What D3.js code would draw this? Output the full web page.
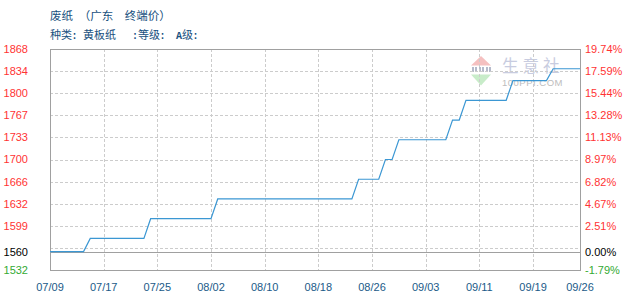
<!DOCTYPE html>
<html><head><meta charset="utf-8">
<script src="https://cdn.jsdelivr.net/npm/d3@7"></script>
<style>body{margin:0;background:#fff}svg{display:block}</style>
</head><body>
<svg id="c" width="630" height="300"></svg>
<script>
const titleLine1 = "废纸 （广东  终端价）";
const titleLine2 = "种类: 黄板纸   :等级:  A级:";
const dates = ["07/09","07/14","07/15","07/23","07/24","08/02","08/03","08/23","08/24","08/27","08/28","08/29","08/30","09/06","09/07","09/08","09/09","09/15","09/16","09/21","09/22","09/26"];
const prices = [1560,1560,1580,1580,1610,1610,1640,1640,1670,1670,1700,1700,1730,1730,1760,1760,1790,1790,1820,1820,1838,1838];
const xTickLabels = ["07/09","07/17","07/25","08/02","08/10","08/18","08/26","09/03","09/11","09/19","09/26"];
const baseValue = 1560;
const yMin = 1532, yMax = 1868;
const yGridValues = [1565.6,1599.2,1632.8,1666.4,1700,1733.6,1767.2,1800.8,1834.4];
const yLabelValues = [1532,1560,1599.2,1632.8,1666.4,1700,1733.6,1767.2,1800.8,1834.4,1868];
const leftLabels = ["1532","1560","1599","1632","1666","1700","1733","1767","1800","1834","1868"];
const rightLabels = ["-1.79%","0.00%","2.51%","4.67%","6.82%","8.97%","11.13%","13.28%","15.44%","17.59%","19.74%"];

const parse = d3.timeParse("%m/%d");
const L = 50, R = 580, T = 49, B = 270;
const x = d3.scaleTime().domain([parse(dates[0]), parse(dates[dates.length-1])]).range([L, R]);
const y = d3.scaleLinear().domain([yMin, yMax]).range([B, T]);
const svg = d3.select("#c");
const font = "'Liberation Sans', Arial, sans-serif";
const mono = "'Liberation Mono', 'DejaVu Sans Mono', monospace";
const cjk = "'Noto Sans CJK SC', sans-serif";
const crisp = v => Math.round(v) + 0.5;

// titles: full-width glyphs advance one em, ASCII half an em
function title(str, x0, yb, size) {
  const t = svg.append("text").attr("y", yb).attr("fill", "#17507e")
    .attr("font-family", cjk).attr("font-size", size).attr("xml:space", "preserve");
  let cx = x0;
  for (const ch of str) {
    const ascii = ch.charCodeAt(0) < 128;
    if (ch !== " ") {
      t.append("tspan").attr("x", cx - (ascii ? 0.5 : 0))
        .attr("font-family", ascii ? mono : cjk)
        .attr("font-weight", ascii ? "bold" : "normal")
        .attr("font-size", ascii ? 10 : size).text(ch);
    }
    cx += ascii ? size / 2 : size;
  }
}
title(titleLine1, 50, 19.5, 11.5);
title(titleLine2, 50, 38.5, 11);

// watermark
const wm = svg.append("g");
wm.append("path").attr("d", "M481,56 L491,65.5 L471,65.5 Z").attr("fill", "#f5c0c0");
wm.append("path").attr("d", "M471,74.5 L491,74.5 L481,85.5 Z").attr("fill", "#c8ecc9");
[472,475,479,482,486,489].forEach(px => wm.append("rect").attr("x", px).attr("y", 67).attr("width", 2).attr("height", 5).attr("fill", "#b5bacb"));
wm.append("text").attr("x", 502).attr("y", 72).attr("font-family", cjk).attr("font-size", 16.5)
  .attr("letter-spacing", 4).attr("fill", "#c8cce0").text("生意社");
wm.append("text").attr("x", 502).attr("y", 86).attr("font-family", font).attr("font-size", 9.5)
  .attr("letter-spacing", 0.5).attr("fill", "#bdbdbd").text("100PPI.COM");

// grid
const xGrid = xTickLabels.slice(1, -1).map(parse);
svg.append("g").selectAll("line").data(xGrid).join("line")
  .attr("x1", d => crisp(x(d))).attr("x2", d => crisp(x(d)))
  .attr("y1", T).attr("y2", B)
  .attr("stroke", "#cccccc").attr("stroke-dasharray", "3,2").attr("shape-rendering", "crispEdges");
svg.append("g").selectAll("line").data(yGridValues).join("line")
  .attr("x1", L).attr("x2", R)
  .attr("y1", d => crisp(y(d))).attr("y2", d => crisp(y(d)))
  .attr("stroke", "#cccccc").attr("stroke-dasharray", "3,2").attr("shape-rendering", "crispEdges");

// frame + base line
svg.append("rect").attr("x", crisp(L)).attr("y", crisp(T)).attr("width", R - L).attr("height", B - T)
  .attr("fill", "none").attr("stroke", "#a0a0a0").attr("shape-rendering", "crispEdges");
svg.append("line").attr("x1", L).attr("x2", R).attr("y1", crisp(y(baseValue))).attr("y2", crisp(y(baseValue)))
  .attr("stroke", "#a0a0a0").attr("shape-rendering", "crispEdges");

// line
const pts = dates.map((d, i) => [parse(d), prices[i]]);
svg.append("path").datum(pts)
  .attr("d", d3.line().x(d => x(d[0])).y(d => y(d[1])))
  .attr("fill", "none").attr("stroke", "#3b97d3").attr("stroke-width", 1.2);

// y labels
const col = v => v > baseValue ? "#ff3333" : (v === baseValue ? "#000000" : "#33aa33");
svg.append("g").selectAll("text").data(yLabelValues).join("text")
  .attr("x", 28).attr("y", d => y(d)).attr("dy", "0.36em").attr("text-anchor", "end")
  .attr("font-family", font).attr("font-size", 11).attr("fill", col)
  .text((d, i) => leftLabels[i]);
svg.append("g").selectAll("text").data(yLabelValues).join("text")
  .attr("x", 585).attr("y", d => y(d)).attr("dy", "0.36em").attr("text-anchor", "start")
  .attr("font-family", font).attr("font-size", 11).attr("fill", col)
  .text((d, i) => rightLabels[i]);

// x labels
svg.append("g").selectAll("text").data(xTickLabels).join("text")
  .attr("x", d => x(parse(d))).attr("y", 291).attr("text-anchor", "middle")
  .attr("font-family", font).attr("font-size", 11).attr("fill", "#1a5a88")
  .text(d => d);
</script>
</body></html>
